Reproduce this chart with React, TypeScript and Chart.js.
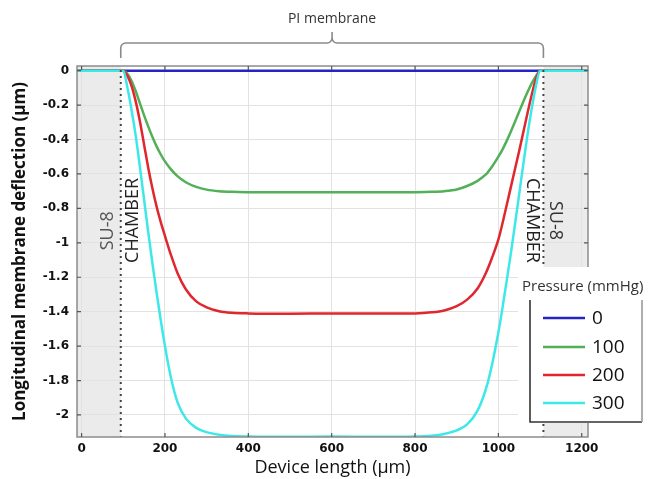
import React, { useEffect, useRef } from "react";
import { Chart, registerables } from "chart.js";

Chart.register(...registerables);

// ---- data ----
const xPositions = [
  -11, 0, 50,
  100, 110, 120, 130, 140, 150, 160, 170, 180, 190, 200,
  215, 230, 250, 275, 300, 330, 360, 400,
  500, 600, 700,
  800, 840, 870, 900, 925, 950, 970, 985,
  1000, 1010, 1020, 1030, 1040, 1050, 1060, 1070, 1080, 1090, 1100,
  1150, 1200, 1215,
];

const p0 = [
  0, 0, 0,
  0, 0, 0, 0, 0, 0, 0, 0, 0, 0, 0,
  0, 0, 0, 0, 0, 0, 0, 0,
  0, 0, 0,
  0, 0, 0, 0, 0, 0, 0, 0,
  0, 0, 0, 0, 0, 0, 0, 0, 0, 0, 0,
  0, 0, 0,
];

const p100 = [
  0, 0, 0,
  0, -0.018, -0.06, -0.12, -0.19, -0.26, -0.325, -0.385, -0.44, -0.487, -0.527,
  -0.575, -0.613, -0.648, -0.675, -0.691, -0.7, -0.704, -0.706,
  -0.707, -0.706, -0.707,
  -0.706, -0.704, -0.7, -0.69, -0.67, -0.64, -0.603, -0.557,
  -0.5, -0.457, -0.408, -0.354, -0.296, -0.237, -0.179, -0.124, -0.074, -0.032, 0,
  0, 0, 0,
];

const p200 = [
  0, 0, 0,
  0, -0.03, -0.09, -0.18, -0.295, -0.43, -0.565, -0.685, -0.79, -0.88, -0.96,
  -1.075, -1.175, -1.27, -1.34, -1.375, -1.397, -1.406, -1.41,
  -1.412, -1.41, -1.411,
  -1.41, -1.404, -1.393, -1.368, -1.33, -1.265, -1.175, -1.085,
  -0.98, -0.885, -0.78, -0.675, -0.57, -0.465, -0.355, -0.245, -0.14, -0.05, 0,
  0, 0, 0,
];

const p300 = [
  0, 0, 0,
  0, -0.1, -0.23, -0.38, -0.56, -0.75, -0.94, -1.12, -1.29, -1.45, -1.6,
  -1.79, -1.925, -2.02, -2.075, -2.1, -2.115, -2.122, -2.125,
  -2.127, -2.125, -2.127,
  -2.125, -2.12, -2.11, -2.09, -2.055, -1.975, -1.85, -1.705,
  -1.52, -1.375, -1.22, -1.06, -0.89, -0.715, -0.54, -0.37, -0.22, -0.09, 0,
  0, 0, 0,
];

const seriesValues = [p0, p100, p200, p300];
const pressureLabels = ["0", "100", "200", "300"];
const seriesColors = ["#2424c4", "#52b058", "#e0262f", "#3ee8e8"];

const xTickValues = [0, 200, 400, 600, 800, 1000, 1200];
const yTickValues = [0, -0.2, -0.4, -0.6, -0.8, -1, -1.2, -1.4, -1.6, -1.8, -2];

const xRange = [-11, 1215];
const yRange = [-2.128, 0.027];

// SU-8 / chamber boundaries (dotted lines)
const su8LeftEdge = 94;
const su8RightEdge = 1108;

const bracketLabel = "PI membrane";
const legendTitle = "Pressure (mmHg)";
const xTitle = "Device length (µm)";
const yTitle = "Longitudinal membrane deflection (µm)";

// vertical placement of the rotated region labels, in data units
const chamberLabelY = -0.87;
const su8LeftLabelY = -0.93;
const su8RightLabelY = -0.87;

function rotText(
  ctx: CanvasRenderingContext2D,
  text: string,
  cx: number,
  cy: number,
  angle: number,
  font: string,
  color: string
) {
  ctx.save();
  ctx.translate(cx, cy);
  ctx.rotate(angle);
  ctx.font = font;
  ctx.fillStyle = color;
  ctx.textAlign = "center";
  ctx.textBaseline = "middle";
  ctx.fillText(text, 0, 0);
  ctx.restore();
}

const decorPlugin = {
  id: "decor",
  beforeDraw(chart: any) {
    const { ctx, chartArea: a, scales } = chart;
    const xs = scales.x;
    const xl = xs.getPixelForValue(su8LeftEdge);
    const xr = xs.getPixelForValue(su8RightEdge);
    ctx.save();
    ctx.fillStyle = "#ebebeb";
    ctx.fillRect(a.left, a.top, xl - a.left, a.bottom - a.top);
    ctx.fillRect(xr, a.top, a.right - xr, a.bottom - a.top);
    ctx.restore();
  },
  afterDraw(chart: any) {
    const { ctx, chartArea: a, scales } = chart;
    const xs = scales.x;
    const ys = scales.y;
    const xl = xs.getPixelForValue(su8LeftEdge);
    const xr = xs.getPixelForValue(su8RightEdge);

    ctx.save();
    // dotted boundary lines
    ctx.strokeStyle = "#444";
    ctx.lineWidth = 2;
    ctx.setLineDash([2, 4]);
    [xl, xr].forEach((px) => {
      ctx.beginPath();
      ctx.moveTo(px, a.top + 4);
      ctx.lineTo(px, a.bottom);
      ctx.stroke();
    });
    ctx.setLineDash([]);

    // frame
    ctx.strokeStyle = "#8c8c8c";
    ctx.lineWidth = 1.5;
    ctx.strokeRect(a.left, a.top, a.right - a.left, a.bottom - a.top);

    // inner tick marks
    ctx.strokeStyle = "#555";
    ctx.lineWidth = 1.2;
    xTickValues.forEach((v) => {
      const px = xs.getPixelForValue(v);
      ctx.beginPath();
      ctx.moveTo(px, a.bottom);
      ctx.lineTo(px, a.bottom - 4);
      ctx.moveTo(px, a.top);
      ctx.lineTo(px, a.top + 4);
      ctx.stroke();
    });
    yTickValues.forEach((v) => {
      const py = ys.getPixelForValue(v);
      ctx.beginPath();
      ctx.moveTo(a.left, py);
      ctx.lineTo(a.left + 4, py);
      ctx.moveTo(a.right, py);
      ctx.lineTo(a.right - 4, py);
      ctx.stroke();
    });

    // region labels
    const lf = '18px "Open Sans"';
    const cy = ys.getPixelForValue(chamberLabelY);
    rotText(ctx, "SU-8", xl - 13, ys.getPixelForValue(su8LeftLabelY), -Math.PI / 2, lf, "#555");
    rotText(ctx, "CHAMBER", xl + 12.5, cy, -Math.PI / 2, lf, "#222");
    rotText(ctx, "CHAMBER", xr - 11.5, cy, Math.PI / 2, lf, "#222");
    rotText(ctx, "SU-8", xr + 11.5, ys.getPixelForValue(su8RightLabelY), Math.PI / 2, lf, "#333");

    // bracket above membrane
    const bl = xl;
    const br = xr;
    const bm = (bl + br) / 2;
    const by = 43;
    const r = 5;
    ctx.strokeStyle = "#8a8a8a";
    ctx.lineWidth = 1.6;
    ctx.beginPath();
    ctx.moveTo(bl, 58);
    ctx.lineTo(bl, by + r);
    ctx.arcTo(bl, by, bl + r, by, r);
    ctx.lineTo(bm - r, by);
    ctx.arcTo(bm, by, bm, by - r, r);
    ctx.lineTo(bm, 32);
    ctx.moveTo(bm, by - r);
    ctx.arcTo(bm, by, bm + r, by, r);
    ctx.lineTo(br - r, by);
    ctx.arcTo(br, by, br, by + r, r);
    ctx.lineTo(br, 58);
    ctx.stroke();
    ctx.font = '14px "Open Sans"';
    ctx.fillStyle = "#333";
    ctx.textAlign = "center";
    ctx.textBaseline = "middle";
    ctx.fillText(bracketLabel, bm, 19);

    // legend
    ctx.fillStyle = "#ffffff";
    ctx.fillRect(518, 267, 131, 156);
    ctx.font = '15px "Open Sans"';
    ctx.fillStyle = "#333";
    ctx.textAlign = "left";
    ctx.textBaseline = "middle";
    ctx.fillText(legendTitle, 522, 287);
    ctx.lineWidth = 1.6;
    ctx.strokeStyle = "#333";
    ctx.beginPath();
    ctx.moveTo(530, 300);
    ctx.lineTo(530, 422);
    ctx.lineTo(642, 422);
    ctx.stroke();
    ctx.strokeStyle = "#9a9a9a";
    ctx.beginPath();
    ctx.moveTo(642, 300);
    ctx.lineTo(642, 422);
    ctx.stroke();
    const rows = [318, 347, 375, 403];
    pressureLabels.forEach((lab, i) => {
      ctx.strokeStyle = seriesColors[i];
      ctx.lineWidth = 2.5;
      ctx.beginPath();
      ctx.moveTo(543, rows[i]);
      ctx.lineTo(585, rows[i]);
      ctx.stroke();
      ctx.font = '19px "Open Sans"';
      ctx.fillStyle = "#111";
      ctx.fillText(lab, 592, rows[i] + 1);
    });
    ctx.restore();
  },
};

export default function App() {
  const ref = useRef<HTMLCanvasElement | null>(null);

  useEffect(() => {
    if (!ref.current) return;
    const datasets = seriesValues.map((vals, i) => ({
      label: pressureLabels[i],
      data: xPositions.map((x, j) => ({ x, y: vals[j] })),
      borderColor: seriesColors[i],
      backgroundColor: seriesColors[i],
      borderWidth: 2.5,
      pointRadius: 0,
      fill: false,
      cubicInterpolationMode: "monotone" as const,
      order: seriesValues.length - 1 - i,
    }));

    const chart = new Chart(ref.current, {
      type: "line",
      data: { datasets },
      plugins: [decorPlugin],
      options: {
        animation: false,
        responsive: false,
        devicePixelRatio: 1,
        layout: { padding: { left: 0, top: 66, right: 61, bottom: 0 } },
        plugins: { legend: { display: false }, tooltip: { enabled: false } },
        scales: {
          x: {
            type: "linear",
            min: xRange[0],
            max: xRange[1],
            afterBuildTicks: (s: any) => {
              s.ticks = xTickValues.map((v) => ({ value: v }));
            },
            afterFit: (s: any) => {
              s.height = 42;
            },
            grid: { color: "#e2e2e2", drawTicks: false },
            border: { display: false },
            ticks: {
              padding: 5,
              color: "#111",
              maxRotation: 0,
              font: { family: "DejaVu Sans", weight: "bold", size: 12 },
              callback: (v: any) => String(v),
            },
            title: {
              display: true,
              text: xTitle,
              color: "#111",
              font: { family: "Open Sans", size: 18 },
              padding: { top: 0, bottom: 0 },
            },
          },
          y: {
            type: "linear",
            min: yRange[0],
            max: yRange[1],
            afterBuildTicks: (s: any) => {
              s.ticks = yTickValues.map((v) => ({ value: v }));
            },
            afterFit: (s: any) => {
              s.width = 77;
            },
            grid: { color: "#e2e2e2", drawTicks: false },
            border: { display: false },
            ticks: {
              padding: 8,
              color: "#111",
              font: { family: "DejaVu Sans", weight: "bold", size: 12 },
              callback: (v: any) => String(Math.round(v * 10) / 10),
            },
            title: {
              display: true,
              text: yTitle,
              color: "#111",
              font: { family: "Open Sans", weight: "bold", size: 17 },
              padding: { top: 10, bottom: 0 },
            },
          },
        },
      },
    });
    return () => chart.destroy();
  }, []);

  return (
    <div style={{ position: "absolute", left: 0, top: 0, width: 649, height: 479, background: "#fff" }}>
      <canvas ref={ref} width={649} height={479} style={{ display: "block" }} />
    </div>
  );
}
